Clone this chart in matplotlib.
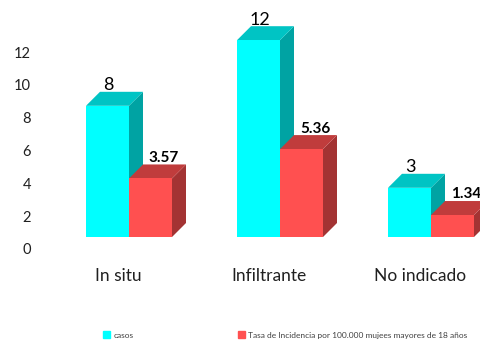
import matplotlib
matplotlib.use("Agg")
import matplotlib.pyplot as plt
from matplotlib.patches import Polygon, Patch

categorias = ["In situ", "Infiltrante", "No indicado"]
casos = [8, 12, 3]
tasa = [3.57, 5.36, 1.34]
ticks = [0, 2, 4, 6, 8, 10, 12]

W, H = 481, 341
px_y = 16.4   # pixeles por unidad del eje y
px_x = 151    # pixeles entre categorias
ancho = 43 / px_x
dx = 14 / px_x
dy = 14 / px_y
base = 12 / px_y


def barra3d(ax, x, valor, frente, arriba, lado):
    y0, y1 = base, base + valor
    ax.add_patch(Polygon([(x + ancho, y0), (x + ancho + dx, y0 + dy), (x + ancho + dx, y1 + dy), (x + ancho, y1)],
                         color=lado, lw=0, clip_on=False))
    ax.add_patch(Polygon([(x, y1), (x + dx, y1 + dy), (x + ancho + dx, y1 + dy), (x + ancho, y1)],
                         color=arriba, lw=0, clip_on=False))
    ax.add_patch(Polygon([(x, y0), (x + ancho, y0), (x + ancho, y1), (x, y1)],
                         color=frente, lw=0, clip_on=False))


plt.rcParams["font.family"] = ["Lato", "DejaVu Sans"]

fig = plt.figure(figsize=(W / 100, H / 100), dpi=100)
izq = 38
ax = fig.add_axes([izq / W, (H - 249) / H, (W - izq) / W, 249 / H])
ax.set_xlim((izq - 129) / px_x, (W - 129) / px_x)
ax.set_ylim(0, 249 / px_y)

# las barras se dibujan en orden para que la roja tape el lado de la azul
for i in range(len(categorias)):
    barra3d(ax, i - ancho, casos[i], "#00ffff", "#00c4c4", "#00a3a3")
    barra3d(ax, i, tasa[i], "#ff5050", "#c03c3c", "#a33333")
    ax.text(i - ancho + 0.15, base + casos[i] + dy + 0.4, str(casos[i]), ha="center", va="center",
            fontsize=13, color="black", clip_on=False)
    ax.text(i + 0.232, base + tasa[i] + dy + 0.4, f"{tasa[i]:.2f}", ha="center", va="center",
            fontsize=11, fontweight="bold", color="black", clip_on=False)

for s in ax.spines.values():
    s.set_visible(False)
ax.patch.set_alpha(0)
ax.set_yticks(ticks)
ax.set_xticks([i - 0.07 for i in range(3)])
ax.set_xticklabels(categorias, fontsize=12.5)
ax.tick_params(axis="x", length=0, pad=14, labelcolor="#202020")
ax.tick_params(axis="y", length=0, pad=5, labelsize=10.5, labelcolor="#202020")

handles = [Patch(color="#00ffff", label="casos"),
           Patch(color="#ff5050", label="Tasa de Incidencia por 100.000 mujees mayores de 18 años")]
fig.legend(handles=handles, ncols=2, frameon=False, fontsize=6, handlelength=0.9, handleheight=0.9,
           handletextpad=0.4, columnspacing=12.5, loc="center left", bbox_to_anchor=(95 / W, (H - 335) / H),
           labelcolor="#404040")

fig.savefig("out.png", dpi=100)
